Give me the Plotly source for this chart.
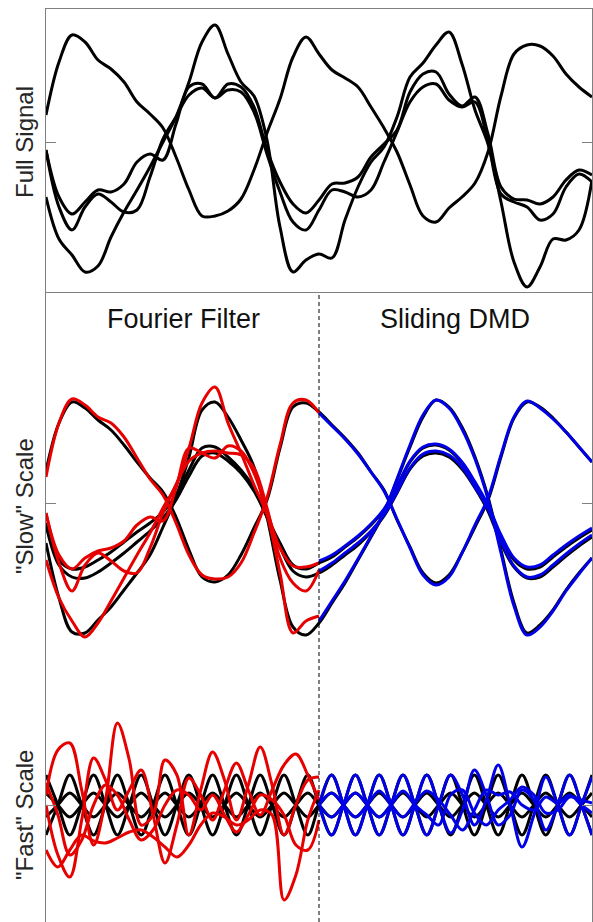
import plotly.graph_objects as go

# ---------------- data (time axis in samples, values relative to each panel's zero line) -------------
t_slow = [0, 13, 26, 39, 52, 65, 78, 91, 104, 117, 130, 143, 156, 169, 182, 195, 208, 221, 234, 247,
          260, 273, 286, 299, 312, 325, 338, 351, 364, 377, 390, 403, 416, 429, 442, 455, 468, 481,
          494, 507, 520, 533, 546]
t_fast = [0, 11.9, 23.8, 35.7, 47.6, 59.5, 71.4, 83.3, 95.2, 107.1, 119.0, 130.9, 142.8, 154.7,
          166.6, 178.5, 190.4, 202.3, 214.2, 226.1, 238.0, 249.9, 261.8, 273.0, 285.6, 297.5, 309.4,
          321.3, 333.2, 345.1, 357.0, 368.9, 380.8, 392.7, 404.6, 416.5, 428.4, 440.3, 452.2, 464.1,
          476.0, 487.9, 499.8, 511.7, 523.6, 535.5, 546.0]
split_t = 273

# full signal (top panel)
full_1 = [27, 80, 107, 100, 82, 73, 60, 40, 28, 14, -15, -48, -74, -74, -69, -57, -28, 9, 43, 85,
          105, 88, 72, 64, 55, 35, 14, -10, -43, -74, -80, -66, -55, -41, -10, 46, 88, 97, 96, 86,
          68, 55, 45]
full_2 = [-55, -97, -113, -130, -124, -95, -70, -48, -25, 0, 25, 60, 100, 117, 88, 60, 46, 2, -85, -130,
          -118, -112, -116, -78, -45, -20, -5, 25, 65, 79, 97, 110, 78, 32, -2, -60, -120, -145, -125,
          -97, -98, -88, -38]
full_3 = [-8, -55, -72, -60, -48, -50, -42, -20, -12, -18, 18, 55, 58, 44, 58, 55, 35, -8, -40, -62,
          -71, -58, -42, -41, -35, -15, -2, 12, 50, 68, 70, 48, 36, 45, 8, -45, -57, -58, -62, -55,
          -38, -28, -33]
full_4 = [-8, -65, -88, -65, -52, -60, -70, -68, -35, 3, 25, 47, 54, 44, 52, 50, 30, -12, -50, -80,
          -88, -68, -48, -50, -55, -48, -20, 10, 40, 55, 58, 42, 35, 40, 0, -52, -60, -65, -78, -72,
          -45, -32, -40]

# true slow scale (black)
slow_1 = [32, 80, 101, 95, 83, 73, 58, 41, 25, 11, -14, -47, -74, -79, -72, -52, -25, 3, 55, 96,
          100, 91, 78, 65, 50, 31, 13, -17, -44, -70, -80, -72, -50, -24, 3, 46, 85, 101, 96, 85,
          71, 56, 41]
slow_2 = [-40, -95, -129, -130, -117, -104, -87, -70, -52, -24, 6, 46, 93, 101, 86, 63, 36, -14, -77,
          -124, -132, -120, -100, -80, -57, -34, -10, 23, 56, 86, 103, 96, 76, 46, 6, -47, -100, -130,
          -122, -107, -87, -70, -55]
slow_3 = [-20, -57, -66, -64, -57, -49, -39, -29, -20, -9, 8, 33, 55, 56, 46, 33, 15, -14, -40, -62,
          -66, -60, -54, -44, -34, -22, -7, 16, 41, 55, 58, 53, 40, 20, -4, -34, -57, -66, -64, -54,
          -44, -35, -27]
slow_4 = [-22, -62, -74, -75, -69, -60, -50, -39, -28, -15, 3, 27, 47, 50, 42, 30, 12, -14, -44, -68,
          -74, -70, -62, -52, -42, -29, -13, 10, 34, 47, 50, 46, 34, 15, -8, -40, -64, -75, -74, -64,
          -53, -43, -34]

# Fourier-filter slow estimate (red, left half)
fourier_slow_1 = [26, 80, 104, 98, 86, 80, 66, 45, 24, 8, -20, -52, -72, -76, -74, -60, -30, 5, 58, 100, 103, 90]
fourier_slow_2 = [-57, -95, -118, -134, -120, -98, -75, -52, -30, -5, 18, 55, 100, 116, 80, 50, 18, -12, -70, -130, -118, -113]
fourier_slow_3 = [-10, -52, -66, -55, -48, -45, -38, -22, -14, -18, 15, 55, 50, 45, 57, 52, 30, -8, -45, -63, -64, -60]
fourier_slow_4 = [-10, -60, -88, -62, -50, -58, -68, -70, -45, -10, 18, 42, 50, 52, 50, 48, 35, -5, -55, -80, -88, -67]

# sliding-DMD slow estimate (blue, right half)
dmd_slow_1 = [90, 77, 64, 49, 31, 12, -16, -45, -72, -82, -74, -50, -22, 5, 48, 86, 102, 95, 84, 71, 56, 41]
dmd_slow_2 = [-118, -98, -78, -56, -33, -9, 24, 58, 88, 103, 95, 74, 44, 4, -50, -103, -132, -124, -108, -88, -71, -55]
dmd_slow_3 = [-58, -52, -43, -33, -21, -6, 17, 42, 56, 59, 54, 41, 21, -2, -32, -55, -64, -62, -52, -42, -33, -25]
dmd_slow_4 = [-68, -60, -50, -40, -28, -12, 11, 35, 49, 52, 48, 36, 16, -6, -38, -63, -74, -72, -62, -51, -41, -32]

# true fast scale (black)
fast_1 = [30, 0, -30, 0, 30, 0, -30, 0, 30, 0, -30, 0, 30, 0, -30, 0, 30, 0, -30, 0, 30, 0, -30, 0,
          30, 0, -30, 0, 30, 0, -30, 0, 30, 0, -30, 0, 30, 0, -30, 0, 30, 0, -30, 0, 30, 0, -30]
fast_2 = [-30, 0, 30, 0, -30, 0, 30, 0, -30, 0, 30, 0, -30, 0, 30, 0, -30, 0, 30, 0, -30, 0, 30, 0,
          -30, 0, 30, 0, -30, 0, 30, 0, -30, 0, 30, 0, -30, 0, 30, 0, -30, 0, 30, 0, -30, 0, 30]
fast_3 = [12, 0, -12, 0, 12, 0, -12, 0, 12, 0, -12, 0, 12, 0, -12, 0, 12, 0, -12, 0, 12, 0, -12, 0,
          12, 0, -12, 0, 12, 0, -12, 0, 12, 0, -12, 0, 12, 0, -12, 0, 12, 0, -12, 0, 12, 0, -12]
fast_4 = [-12, 0, 12, 0, -12, 0, 12, 0, -12, 0, 12, 0, -12, 0, 12, 0, -12, 0, 12, 0, -12, 0, 12, 0,
          -12, 0, 12, 0, -12, 0, 12, 0, -12, 0, 12, 0, -12, 0, 12, 0, -12, 0, 12, 0, -12, 0, 12]

# Fourier-filter fast estimate (red, left half)
fourier_fast_1 = [10, 55, 62, 15, -40, 5, 82, 45, -20, -10, 45, 30, -30, 15, 53, 25, -15, 20, 58, 20, -30, 0, 25, 28]
fourier_fast_2 = [0, -50, -72, -15, 47, 25, -5, 15, 35, -10, -58, -20, 27, 10, -15, 15, 42, 15, -10, 15, 40, 51, 30, 5]
fourier_fast_3 = [-45, -62, -45, -30, -36, -38, -33, -27, -25, -32, -42, -52, -40, -20, -8, -12, -20, -15, -5, -10, -95, -70, -15, 15]
fourier_fast_4 = [22, -10, -50, -35, 0, 20, 10, -15, -35, -25, 0, 15, 10, -5, 10, -10, -27, -10, 10, 5, -10, -40, -45, -15]

# sliding-DMD fast estimate (blue, right half)
dmd_fast_1 = [0, 30, 0, -30, 0, 30, 0, -30, 0, 30, 0, -28, -5, 35, 10, -20, -10, 15, 5, -25, 0, 30, 0, -30]
dmd_fast_2 = [0, -30, 0, 30, 0, -30, 0, 30, 0, -30, 0, 30, 10, -20, 5, 40, 0, -42, -10, 28, 0, -30, 0, 28]
dmd_fast_3 = [0, 12, 0, -12, 0, 14, 0, -12, 2, 14, 5, -10, -25, -5, 15, 10, 13, 0, -5, 8, 2, 10, 0, -8]
dmd_fast_4 = [0, -12, 0, 12, 0, -12, 0, 14, 0, -10, -20, 10, 15, -8, -20, -5, 5, 18, 10, -8, -5, 8, 5, 2]

panel_labels = ["Full Signal", "\"Slow\" Scale", "\"Fast\" Scale"]
method_titles = ["Fourier Filter", "Sliding DMD"]

# ---------------- figure -------------
W, H = 593, 922
BLACK, RED, BLUE = "#000000", "#e60000", "#0000e6"
AXC = "#808080"

n_left_slow = len(fourier_slow_1)
n_left_fast = len(fourier_fast_1)
t_slow_left = t_slow[:n_left_slow]
t_slow_right = t_slow[n_left_slow - 1:]
t_fast_left = t_fast[:n_left_fast]
t_fast_right = t_fast[n_left_fast - 1:]

fig = go.Figure()


def add(x, y, color, xa, ya):
    fig.add_trace(go.Scatter(x=x, y=y, mode="lines",
                             line=dict(color=color, width=3, shape="spline", smoothing=1.0),
                             xaxis=xa, yaxis=ya, showlegend=False, hoverinfo="skip"))


for s in (full_1, full_2, full_3, full_4):
    add(t_slow, s, BLACK, "x", "y")

for s in (slow_1, slow_2, slow_3, slow_4):
    add(t_slow, s, BLACK, "x2", "y2")
for s in (fourier_slow_1, fourier_slow_2, fourier_slow_3, fourier_slow_4):
    add(t_slow_left, s, RED, "x2", "y2")
for s in (dmd_slow_1, dmd_slow_2, dmd_slow_3, dmd_slow_4):
    add(t_slow_right, s, BLUE, "x2", "y2")

for s in (fast_1, fast_2, fast_3, fast_4):
    add(t_fast, s, BLACK, "x3", "y3")
for s in (fourier_fast_1, fourier_fast_2, fourier_fast_3, fourier_fast_4):
    add(t_fast_left, s, RED, "x3", "y3")
for s in (dmd_fast_1, dmd_fast_2, dmd_fast_3, dmd_fast_4):
    add(t_fast_right, s, BLUE, "x3", "y3")

# pixel geometry of panels
x_dom = [46 / W, 592 / W]
top_dom = [1 - 292 / H, 1 - 9 / H]
slow_dom = [1 - 660 / H, 1 - 292 / H]
fast_dom = [0, 1 - 660 / H]

xcommon = dict(domain=x_dom, range=[0, 546], showgrid=False, zeroline=False,
               showticklabels=False, ticks="", fixedrange=True)
ycommon = dict(showgrid=False, zeroline=False, showticklabels=False, showline=True,
               linecolor=AXC, linewidth=1, mirror="ticks", ticks="inside", tickvals=[0],
               ticklen=10, tickcolor=AXC, tickwidth=1, fixedrange=True)

fig.update_layout(
    width=W, height=H, autosize=False, margin=dict(l=0, r=0, t=0, b=0, pad=0),
    paper_bgcolor="white", plot_bgcolor="white", hovermode=False,
    xaxis=dict(**xcommon, anchor="y", showline=True, mirror=True, linecolor=AXC, linewidth=1),
    xaxis2=dict(**xcommon, anchor="y2", showline=False),
    xaxis3=dict(**xcommon, anchor="y3", showline=False),
    yaxis=dict(**ycommon, domain=top_dom, range=[-150, 133], anchor="x"),
    yaxis2=dict(**ycommon, domain=slow_dom, range=[-157, 211], anchor="x2"),
    yaxis3=dict(**ycommon, domain=fast_dom, range=[-117, 145], anchor="x3"),
)

fig.add_shape(type="line", xref="x2", yref="paper", x0=split_t, x1=split_t, y0=0, y1=slow_dom[1],
              line=dict(color="black", width=1, dash="4px,3px"), layer="above")

FONT = "Liberation Sans, Arial, Helvetica, sans-serif"
label_y = [142, 506, 815]
for txt, py in zip(panel_labels, label_y):
    fig.add_annotation(text=txt, x=24 / W, y=1 - py / H, xref="paper", yref="paper",
                       textangle=-90, showarrow=False, xanchor="center", yanchor="middle",
                       font=dict(family=FONT, size=24, color="#262626"))
for txt, px in zip(method_titles, [183, 455]):
    fig.add_annotation(text=txt, x=px / W, y=1 - 319 / H, xref="paper", yref="paper",
                       showarrow=False, xanchor="center", yanchor="middle",
                       font=dict(family=FONT, size=27, color="#111111"))

# remove the page's default body margin so the 593x922 figure sits at the window origin
page_fix = (
    "document.body.style.margin='0';document.body.style.padding='0';"
    "document.body.style.overflow='hidden';"
    "var gd=document.getElementById('{plot_id}');"
    "Plotly.relayout(gd,{width:593,height:922});"
)
fig.write_html("out.html", post_script=page_fix,
               config={"responsive": False, "displayModeBar": False, "staticPlot": True})
